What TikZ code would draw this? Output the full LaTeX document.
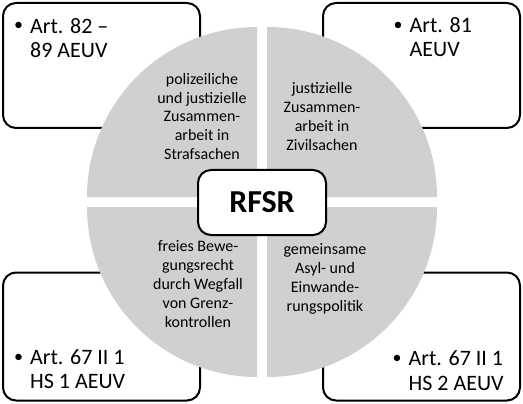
\documentclass[tikz,border=0pt]{standalone}
\usepackage{fontspec}
\setmainfont{Carlito}
\definecolor{quad}{RGB}{208,208,208}
\begin{document}
\begin{tikzpicture}[x=1pt,y=-1pt,
  box/.style={draw=black, line width=2pt, fill=white, rounded corners=13pt, inner sep=0pt},
  boxtext/.style={font=\fontsize{22}{24.5}\selectfont, align=left, inner sep=0pt, anchor=base west},
  quadtext/.style={font=\fontsize{16}{19}\selectfont, align=center, inner sep=0pt, anchor=base},
  quadfill/.style={fill=quad, draw=none}]
\useasboundingbox (0,0) rectangle (523,404);
\newcommand{\bul}{\makebox[16pt][l]{\raisebox{2pt}{\fontsize{18}{18}\selectfont •}}}
% corner boxes
\node[box, minimum width=197pt, minimum height=125pt] (btl) at (101.5,65.5) {};
\node[box, minimum width=197pt, minimum height=125pt] (btr) at (421.5,65.5) {};
\node[box, minimum width=197pt, minimum height=128pt] (bbl) at (101.5,336.5) {};
\node[box, minimum width=197pt, minimum height=128pt] (bbr) at (421.5,336.5) {};
% quadrants
\fill[quadfill] (257,197) -- (87,197) arc[start angle=180, end angle=90, radius=170pt] -- cycle;
\fill[quadfill] (267,197) -- (437,197) arc[start angle=0, end angle=90, radius=170pt] -- cycle;
\fill[quadfill] (257,207) -- (87,207) arc[start angle=180, end angle=270, radius=170pt] -- cycle;
\fill[quadfill] (267,207) -- (437,207) arc[start angle=0, end angle=-90, radius=170pt] -- cycle;
% box texts
\node[boxtext] (ttl) at (14,57.5) {\bul Art. 82 –\\\hspace*{16pt}89 AEUV};
\node[boxtext] (ttr) at (393.5,57) {\bul Art. 81\\\hspace*{16pt}AEUV};
\node[boxtext] (tbl) at (14,388.5) {\bul Art. 67 II 1\\\hspace*{16pt}HS 1 AEUV};
\node[boxtext] (tbr) at (392.5,390) {\bul Art. 67 II 1\\\hspace*{16pt}HS 2 AEUV};
% quadrant texts
\node[quadtext] (qtl) at (202,160) {polizeiliche\\und justizielle\\Zusammen-\\arbeit in\\Strafsachen};
\node[quadtext] (qtr) at (322,150.5) {justizielle\\Zusammen-\\arbeit in\\Zivilsachen};
\node[quadtext] (qbl) at (198,327.5) {freies Bewe-\\gungsrecht\\durch Wegfall\\von Grenz-\\kontrollen};
\node[quadtext] (qbr) at (325,311) {gemeinsame\\Asyl- und\\Einwande-\\rungspolitik};
% centre
\node[box, minimum width=128pt, minimum height=65pt, font=\bfseries\fontsize{32}{36}\selectfont] (rfsr) at (262,202.5) {RFSR};
\end{tikzpicture}
\end{document}
